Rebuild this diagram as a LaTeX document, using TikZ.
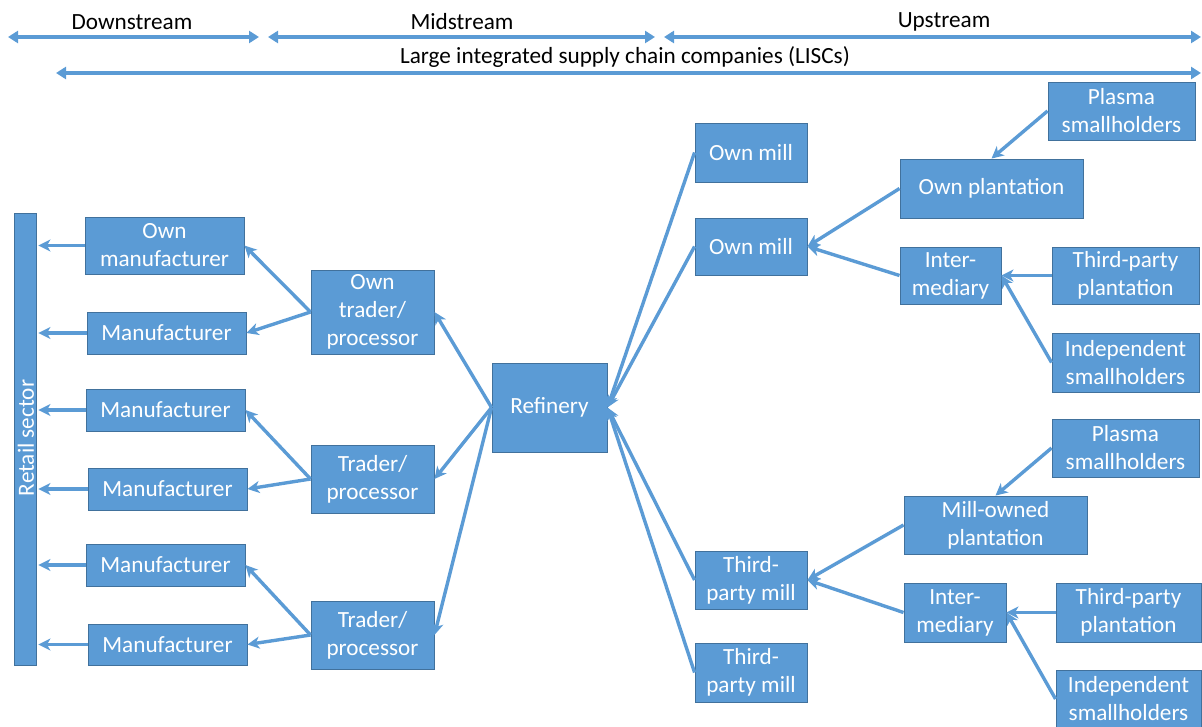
\documentclass[tikz,border=0pt]{standalone}
\usepackage{fontspec}
\setmainfont{Carlito}
\usetikzlibrary{arrows.meta}
\definecolor{boxblue}{HTML}{5B9BD5}
\definecolor{boxedge}{HTML}{41719C}
\definecolor{linkblue}{HTML}{5B9BD5}
\tikzset{
  box/.style={draw=boxedge, fill=boxblue, text=white, line width=0.9pt, inner sep=0pt,
    align=center, font=\fontsize{23.2}{28}\selectfont},
  link/.style={draw=linkblue, line width=3.4pt, -{Stealth[length=12pt,width=12pt,inset=3.5pt]}},
  span/.style={draw=linkblue, line width=3.4pt, {Triangle[length=10pt,width=12pt]}-{Triangle[length=10pt,width=12pt]}},
  head/.style={font=\fontsize{23.2}{28}\selectfont, inner sep=0pt}
}
\newcommand{\bx}[6]{\node[box, minimum width={#4-#2}, minimum height={#5-#3}] (#1) at ({(#2+#4)/2},{(#3+#5)/2}) {#6};}
\begin{document}
\begin{tikzpicture}[x=1pt,y=-1pt]
\useasboundingbox (0,0) rectangle (1202,727);

% header
\coordinate (d1) at (8,37); \coordinate (d2) at (259,37);
\coordinate (m1) at (268,37); \coordinate (m2) at (655,37);
\coordinate (u1) at (664,37); \coordinate (u2) at (1201,37);
\coordinate (l1) at (56,73); \coordinate (l2) at (1201,73);
\draw[span] (d1) -- (d2);
\draw[span] (m1) -- (m2);
\draw[span] (u1) -- (u2);
\draw[span] (l1) -- (l2);
\node[head] (hd) at (132,22) {Downstream};
\node[head] (hm) at (462,22) {Midstream};
\node[head] (hu) at (944,22) {Upstream};
\node[head] (hl) at (625,57) {Large integrated supply chain companies (LISCs)};

% retail
\node[box, minimum width=22pt, minimum height=452pt] (ret) at (25,439) {};
\node[text=white, rotate=90, font=\fontsize{23.2}{28}\selectfont, inner sep=0pt] (rettxt) at (26,438) {Retail sector};

% manufacturers
\bx{om}{85}{217}{244}{274}{Own\\manufacturer}
\bx{ma}{87}{312}{246}{354}{Manufacturer}
\bx{mb}{86}{389}{245}{431}{Manufacturer}
\bx{mc}{88}{468}{247}{510}{Manufacturer}
\bx{md}{86}{544}{245}{586}{Manufacturer}
\bx{me}{88}{624}{247}{665}{Manufacturer}

% traders
\bx{ot}{311}{270}{434}{354}{Own\\trader/\\processor}
\bx{ta}{311}{445}{434}{513}{Trader/\\processor}
\bx{tb}{311}{601}{434}{669}{Trader/\\processor}

% refinery
\bx{ref}{492}{363}{607}{452}{Refinery}

% mills
\bx{oma}{695}{123}{807}{182}{Own mill}
\bx{omb}{695}{218}{807}{275}{Own mill}
\bx{tma}{695}{551}{807}{609}{Third-\\party mill}
\bx{tmb}{695}{643}{807}{702}{Third-\\party mill}

% upper supply
\bx{pla}{1048}{82}{1195}{140}{Plasma\\smallholders}
\bx{op}{900}{159}{1083}{218}{Own plantation}
\bx{ia}{900}{247}{1001}{304}{Inter-\\mediary}
\bx{tpa}{1052}{247}{1199}{304}{Third-party\\plantation}
\bx{isa}{1052}{333}{1199}{392}{Independent\\smallholders}

% lower supply
\bx{plb}{1052}{419}{1199}{477}{Plasma\\smallholders}
\bx{mop}{904}{496}{1087}{554}{Mill-owned\\plantation}
\bx{ib}{904}{583}{1006}{642}{Inter-\\mediary}
\bx{tpb}{1056}{583}{1201}{642}{Third-party\\plantation}
\bx{isb}{1056}{670}{1201}{728}{Independent\\smallholders}

% manufacturers -> retail
\foreach \m in {om,ma,mb,mc,md,me}{
  \draw[link, shorten >=2pt] (\m.west) -- (\m.west -| ret.east);
}
% traders -> manufacturers
\draw[link] (ot.west) -- (om.east);
\draw[link] (ot.west) -- (ma.east);
\draw[link] (ta.west) -- (mb.east);
\draw[link] (ta.west) -- (mc.east);
\draw[link] (tb.west) -- (md.east);
\draw[link] (tb.west) -- (me.east);
% refinery -> traders
\draw[link] (ref.west) -- (ot.east);
\draw[link] (ref.west) -- (ta.east);
\draw[link] (ref.west) -- (tb.east);
% mills -> refinery
\draw[link] (oma.west) -- (ref.east);
\draw[link] (omb.west) -- (ref.east);
\draw[link] (tma.west) -- (ref.east);
\draw[link] (tmb.west) -- (ref.east);
% upper
\draw[link] (pla.west) -- (op.north);
\draw[link] (op.west) -- (omb.east);
\draw[link] (ia.west) -- (omb.east);
\draw[link] (tpa.west) -- (ia.east);
\draw[link] (isa.west) -- (ia.east);
% lower
\draw[link] (plb.west) -- (mop.north);
\draw[link] (mop.west) -- (tma.east);
\draw[link] (ib.west) -- (tma.east);
\draw[link] (tpb.west) -- (ib.east);
\draw[link] (isb.west) -- (ib.east);
\end{tikzpicture}
\end{document}
